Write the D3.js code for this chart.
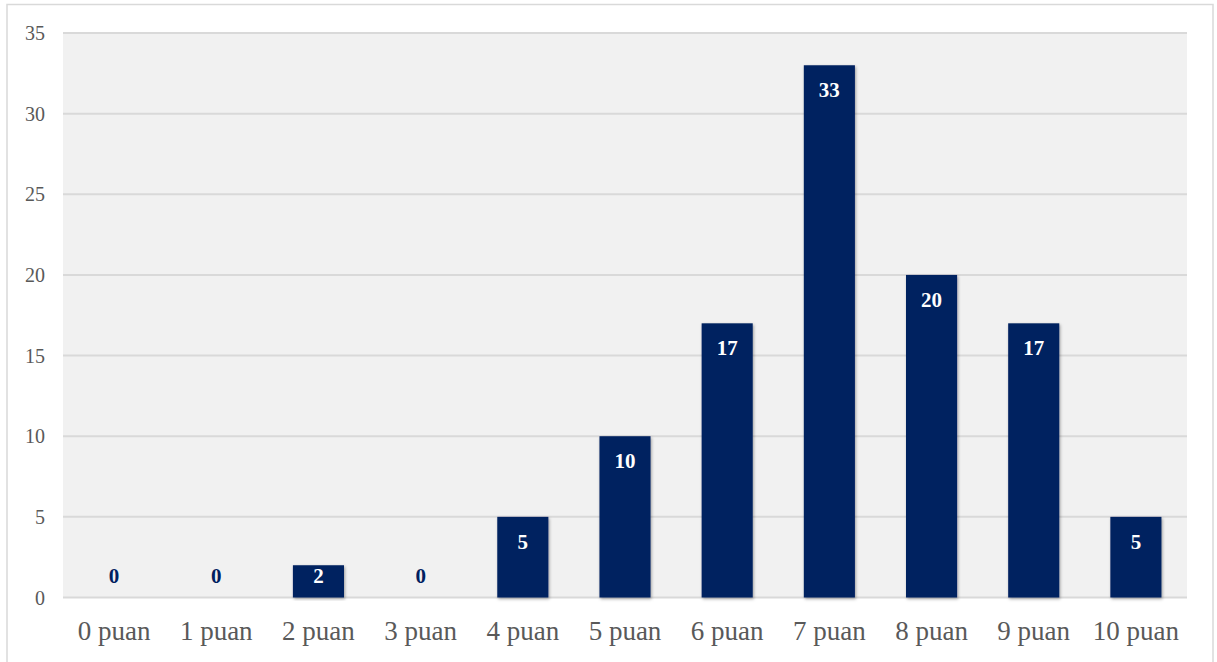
<!DOCTYPE html>
<html>
<head>
<meta charset="utf-8">
<script src="https://d3js.org/d3.v7.min.js"></script>
<style>
  body { margin: 0; background: #fff; }
</style>
</head>
<body>
<svg id="canvas"></svg>
<script>
// data
var categories = ["0 puan", "1 puan", "2 puan", "3 puan", "4 puan", "5 puan", "6 puan", "7 puan", "8 puan", "9 puan", "10 puan"];
var values = [0, 0, 2, 0, 5, 10, 17, 33, 20, 17, 5];
var yTicks = [0, 5, 10, 15, 20, 25, 30, 35];

var width = 1217, height = 662;
var margin = {top: 33, right: 30, bottom: 64.5, left: 63};
var plotW = width - margin.left - margin.right,
    plotH = height - margin.top - margin.bottom;

var svg = d3.select("#canvas")
    .attr("width", width)
    .attr("height", height)
    .style("display", "block");

var defs = svg.append("defs");
var shadow = defs.append("filter").attr("id", "shadow")
    .attr("x", "-20%").attr("y", "-10%").attr("width", "140%").attr("height", "120%");
shadow.append("feDropShadow")
    .attr("dx", 1).attr("dy", 1.5).attr("stdDeviation", 1.5)
    .attr("flood-color", "#000").attr("flood-opacity", 0.35);

// outer chart border
svg.append("rect")
    .attr("x", 7).attr("y", 4.5)
    .attr("width", 1206).attr("height", 670)
    .attr("fill", "none")
    .attr("stroke", "#d9d9d9")
    .attr("stroke-width", 1.5);

var g = svg.append("g")
    .attr("transform", "translate(" + margin.left + "," + margin.top + ")");

var x = d3.scaleBand()
    .domain(categories)
    .range([0, plotW])
    .paddingInner(0.5)
    .paddingOuter(0.25);

var y = d3.scaleLinear()
    .domain([0, 35])
    .range([plotH, 0]);

// plot background
g.append("rect")
    .attr("width", plotW)
    .attr("height", plotH)
    .attr("fill", "#f1f1f1");

// gridlines
g.selectAll(".grid")
  .data(yTicks)
  .enter().append("line")
    .attr("x1", 0).attr("x2", plotW)
    .attr("y1", function(d) { return y(d); })
    .attr("y2", function(d) { return y(d); })
    .attr("stroke", "#d9d9d9")
    .attr("stroke-width", 2);

// y tick labels
g.selectAll(".ylab")
  .data(yTicks)
  .enter().append("text")
    .attr("x", -18)
    .attr("y", function(d) { return y(d) + 7; })
    .attr("text-anchor", "end")
    .style("font-family", "'Liberation Serif', 'Times New Roman', serif")
    .style("font-size", "20px")
    .style("fill", "#595959")
    .text(function(d) { return d; });

// bars
g.selectAll(".bar")
  .data(values)
  .enter().append("rect")
    .attr("x", function(d, i) { return x(categories[i]); })
    .attr("y", function(d) { return y(d); })
    .attr("width", x.bandwidth())
    .attr("height", function(d) { return plotH - y(d); })
    .attr("fill", "#002060")
    .attr("filter", "url(#shadow)");

// value labels
g.selectAll(".val")
  .data(values)
  .enter().append("text")
    .attr("x", function(d, i) { return x(categories[i]) + x.bandwidth() / 2; })
    .attr("y", function(d) { return Math.min(y(d) + 32, plotH - 14.5); })
    .attr("text-anchor", "middle")
    .style("font-family", "'Liberation Serif', 'Times New Roman', serif")
    .style("font-weight", "bold")
    .style("font-size", "21px")
    .style("fill", function(d) { return d === 0 ? "#002060" : "#ffffff"; })
    .text(function(d) { return d; });

// x category labels
g.selectAll(".xlab")
  .data(categories)
  .enter().append("text")
    .attr("x", function(d) { return x(d) + x.bandwidth() / 2; })
    .attr("y", plotH + 42)
    .attr("text-anchor", "middle")
    .style("font-family", "'Liberation Serif', 'Times New Roman', serif")
    .style("font-size", "27px")
    .style("fill", "#595959")
    .text(function(d) { return d; });
</script>
</body>
</html>
